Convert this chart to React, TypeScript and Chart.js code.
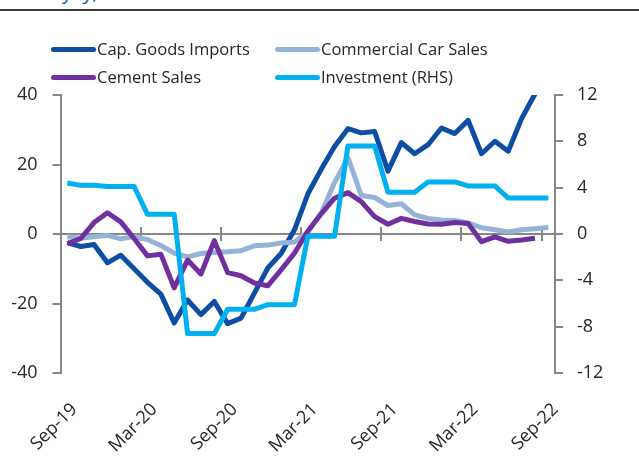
import React, { useEffect, useRef } from "react";
import { Chart, registerables } from "chart.js";

Chart.register(...registerables);

const xLabels = [
  "Sep-19", "Oct-19", "Nov-19", "Dec-19",
  "Jan-20", "Feb-20", "Mar-20", "Apr-20", "May-20", "Jun-20", "Jul-20", "Aug-20", "Sep-20", "Oct-20", "Nov-20", "Dec-20",
  "Jan-21", "Feb-21", "Mar-21", "Apr-21", "May-21", "Jun-21", "Jul-21", "Aug-21", "Sep-21", "Oct-21", "Nov-21", "Dec-21",
  "Jan-22", "Feb-22", "Mar-22", "Apr-22", "May-22", "Jun-22", "Jul-22", "Aug-22", "Sep-22",
];

const capGoodsImports = [
  -2.5, -3.6, -3.0, -8.3, -6.1, -10.0, -13.9, -17.3, -25.6, -19.0,
  -23.2, -19.4, -25.8, -24.2, -17.0, -9.8, -5.6, 1.2, 11.5, 18.6,
  25.2, 30.3, 29.1, 29.5, 18.1, 26.3, 23.1, 25.7, 30.5, 28.9,
  32.7, 23.1, 26.7, 23.8, 33.2, 40.3, null,
];

const commercialCarSales = [
  -0.8, -1.2, -0.8, -0.4, -1.4, -0.7, -1.6, -3.3, -5.5, -6.6,
  -5.6, -5.3, -5.1, -4.8, -3.4, -3.2, -2.6, -2.3, 0.6, 6.0,
  14.8, 22.0, 11.1, 10.5, 8.2, 8.7, 5.5, 4.5, 4.0, 3.9,
  3.2, 1.8, 1.2, 0.6, 1.2, 1.5, 1.9,
];

const cementSales = [
  -2.8, -1.3, 3.3, 6.1, 3.5, -1.3, -6.3, -5.8, -15.5, -7.5,
  -11.5, -1.9, -11.1, -12.0, -14.1, -14.9, -10.3, -5.5, 0.8, 5.8,
  10.3, 11.9, 9.3, 5.0, 2.8, 4.5, 3.6, 2.9, 2.8, 3.3,
  3.0, -2.2, -0.8, -2.1, -1.7, -1.2, null,
];

const investmentRHS = [
  4.4, 4.2, 4.2, 4.1, 4.1, 4.1, 1.7, 1.7, 1.7, -8.6,
  -8.6, -8.6, -6.5, -6.5, -6.5, -6.1, -6.1, -6.1, -0.2, -0.2,
  -0.2, 7.6, 7.6, 7.6, 3.6, 3.6, 3.6, 4.5, 4.5, 4.5,
  4.15, 4.15, 4.15, 3.1, 3.1, 3.1, 3.1,
];

const seriesNames = ["Cap. Goods Imports", "Commercial Car Sales", "Cement Sales", "Investment (RHS)"];
const seriesColors = ["#0E4DA4", "#95B3D7", "#7030A0", "#00B0F0"];

const leftTicks = { min: -40, max: 40, step: 20 };
const rightTicks = { min: -12, max: 12, step: 4 };
const labelEvery = 6;

const FONT = "'Open Sans', 'Noto Sans', sans-serif";
const AXIS_COLOR = "#878787";
const TEXT_COLOR = "#262626";

const zeroAxisPlugin = {
  id: "zeroAxis",
  beforeDatasetsDraw(chart: any) {
    const { ctx, chartArea, scales } = chart;
    const xs = scales.x;
    const ys = scales.y;
    const y0 = ys.getPixelForValue(0);
    ctx.save();
    ctx.strokeStyle = AXIS_COLOR;
    ctx.lineWidth = 2;
    ctx.beginPath();
    ctx.moveTo(chartArea.left, y0);
    ctx.lineTo(chartArea.right, y0);
    const half = (xs.getPixelForValue(1) - xs.getPixelForValue(0)) / 2;
    xLabels.forEach((_, i) => {
      if (i % labelEvery === 0) {
        const px = Math.round(xs.getPixelForValue(i) - half);
        ctx.moveTo(px, y0 - 7);
        ctx.lineTo(px, y0 + 7);
      }
    });
    ctx.stroke();
    ctx.restore();
  },
};

export default function App() {
  const ref = useRef<HTMLCanvasElement>(null);

  useEffect(() => {
    if (!ref.current) return;
    const data = [capGoodsImports, commercialCarSales, cementSales, investmentRHS];
    const chart = new Chart(ref.current, {
      type: "line",
      data: {
        labels: xLabels,
        datasets: data.map((d, i) => ({
          label: seriesNames[i],
          data: d,
          borderColor: seriesColors[i],
          backgroundColor: seriesColors[i],
          borderWidth: 5,
          pointRadius: 0,
          pointHoverRadius: 0,
          tension: 0,
          fill: false,
          spanGaps: false,
          borderJoinStyle: "round" as const,
          borderCapStyle: "butt" as const,
          yAxisID: i === 3 ? "y1" : "y",
          order: 3 - i,
        })),
      },
      options: {
        responsive: false,
        animation: false,
        layout: { padding: { top: 95, left: 0, right: 0, bottom: 0 } },
        plugins: {
          legend: { display: false },
          tooltip: { enabled: false },
          title: { display: false },
        },
        scales: {
          x: {
            type: "category",
            offset: true,
            grid: { display: false, drawTicks: false },
            border: { display: false },
            ticks: {
              autoSkip: false,
              maxRotation: 45,
              minRotation: 45,
              padding: 26,
              labelOffset: 7,
              color: TEXT_COLOR,
              font: { family: FONT, size: 18 },
              callback: (_v: any, i: number) => (i % labelEvery === 0 ? xLabels[i] : ""),
            },
            afterFit: (s: any) => {
              s.height = 93;
            },
          },
          y: {
            position: "left",
            min: leftTicks.min,
            max: leftTicks.max,
            ticks: {
              stepSize: leftTicks.step,
              padding: 15,
              color: TEXT_COLOR,
              font: { family: FONT, size: 18 },
            },
            grid: { drawOnChartArea: false, drawTicks: true, tickLength: 8, color: AXIS_COLOR, lineWidth: 2 },
            border: { display: true, color: AXIS_COLOR, width: 2 },
            afterFit: (s: any) => {
              s.width = 56;
            },
          },
          y1: {
            position: "right",
            min: rightTicks.min,
            max: rightTicks.max,
            ticks: {
              stepSize: rightTicks.step,
              padding: 14,
              color: TEXT_COLOR,
              font: { family: FONT, size: 18 },
            },
            grid: { drawOnChartArea: false, drawTicks: true, tickLength: 8, color: AXIS_COLOR, lineWidth: 2 },
            border: { display: true, color: AXIS_COLOR, width: 2 },
            afterFit: (s: any) => {
              s.width = 84;
            },
          },
        },
      },
      plugins: [zeroAxisPlugin],
    });
    return () => chart.destroy();
  }, []);

  const legendPos = [
    { left: 51, top: 49 },
    { left: 275, top: 49 },
    { left: 51, top: 77 },
    { left: 275, top: 77 },
  ];

  return (
    <div style={{ position: "absolute", left: 0, top: 0, width: 639, height: 466, background: "#fff", overflow: "hidden" }}>
      <div style={{ position: "absolute", left: 0, top: 0, width: 639, height: 8, overflow: "hidden" }}>
        <span
          style={{
            position: "absolute",
            left: 64,
            top: -18,
            fontFamily: FONT,
            fontStyle: "italic",
            fontSize: 20,
            lineHeight: "20px",
            color: "#1F5CB5",
            whiteSpace: "nowrap",
          }}
        >
          yoy,
        </span>
      </div>
      <div style={{ position: "absolute", left: 0, top: 9, width: 639, height: 2, background: "#3C3C3C" }} />
      <canvas ref={ref} width={639} height={466} style={{ position: "absolute", left: 0, top: 0, display: "block" }} />
      {seriesNames.map((name, i) => (
        <div
          key={name}
          style={{
            position: "absolute",
            left: legendPos[i].left,
            top: legendPos[i].top,
            transform: "translateY(-50%)",
            display: "flex",
            alignItems: "center",
            whiteSpace: "nowrap",
          }}
        >
          <div style={{ width: 45, height: 5, borderRadius: 2.5, background: seriesColors[i] }} />
          <span style={{ marginLeft: 1, fontFamily: FONT, fontSize: 16.5, color: TEXT_COLOR, lineHeight: "20px" }}>{name}</span>
        </div>
      ))}
    </div>
  );
}
